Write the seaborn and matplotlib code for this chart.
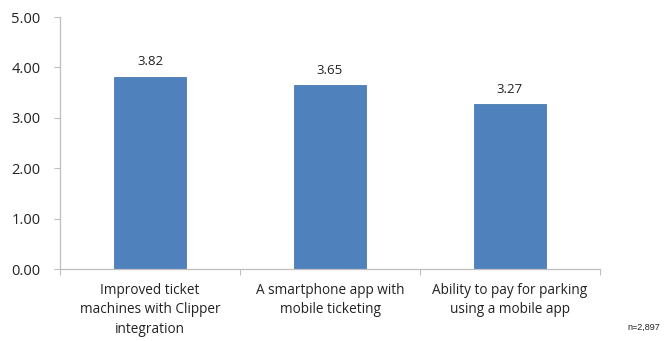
import matplotlib
matplotlib.use("Agg")
import matplotlib.pyplot as plt
import seaborn as sns
import pandas as pd

categories = [
    "Improved ticket\nmachines with Clipper\nintegration",
    "A smartphone app with\nmobile ticketing",
    "Ability to pay for parking\nusing a mobile app",
]
scores = [3.82, 3.65, 3.27]
y_ticks = [0, 1, 2, 3, 4, 5]
sample_note = "n=2,897"

sns.set_theme(style="white")
plt.rcParams["font.family"] = ["Open Sans", "DejaVu Sans"]

df = pd.DataFrame({"feature": categories, "score": scores})

fig = plt.figure(figsize=(6.7, 3.41), dpi=100)
ax = fig.add_axes([0.0896, 0.211, 0.806, 0.739])

sns.barplot(data=df, x="feature", y="score", order=categories,
            color="#4F81BD", width=0.4, saturation=1, ax=ax,
            edgecolor="#4A7AB3", linewidth=0.6)

ax.set_xlim(-0.5, len(categories) - 0.5)
ax.set_ylim(0, 5)
ax.set_yticks(y_ticks)
ax.set_yticklabels([f"{v:.2f}" for v in y_ticks], fontsize=10.5, color="#222222")
ax.set_xticks(range(len(categories)))
ax.set_xticklabels(categories, fontsize=9.8, color="#222222", linespacing=1.4)
ax.set_xlabel("")
ax.set_ylabel("")

# category boundary tick marks along the x axis
ax.set_xticks([i - 0.5 for i in range(len(categories) + 1)], minor=True)
ax.tick_params(axis="x", which="major", length=0, pad=10)
ax.tick_params(axis="x", which="minor", length=4, color="#BFBFBF", width=0.8, direction="out", bottom=True)
ax.tick_params(axis="y", length=4, color="#BFBFBF", width=0.8, direction="out", left=True, pad=10)

for side in ("top", "right"):
    ax.spines[side].set_visible(False)
for side in ("left", "bottom"):
    ax.spines[side].set_color("#BFBFBF")
    ax.spines[side].set_linewidth(0.9)

for i, v in enumerate(scores):
    ax.text(i, v + 0.17, f"{v:.2f}", ha="center", va="bottom", fontsize=9.5, color="#222222")

fig.text(0.985, 0.04, sample_note, ha="right", va="center", fontsize=6.5,
         family=["Liberation Sans", "DejaVu Sans"], color="#222222")

fig.savefig("out.png", dpi=100, facecolor="white")
